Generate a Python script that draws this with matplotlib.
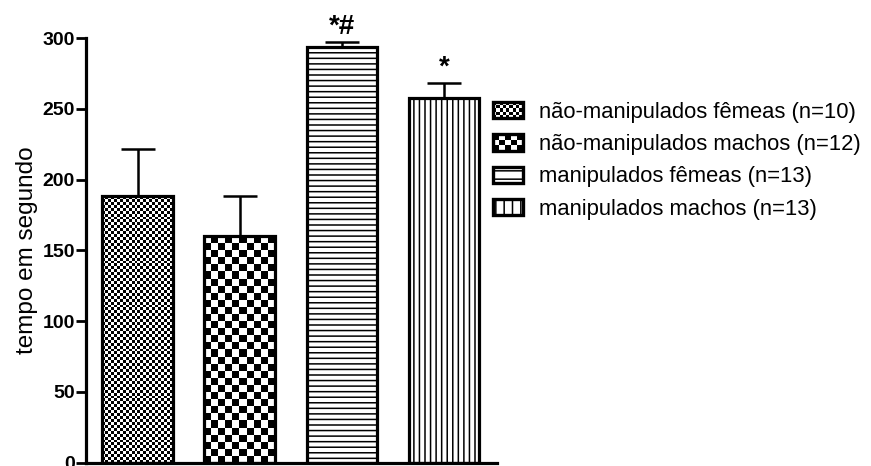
import numpy as np
import matplotlib
matplotlib.use('Agg')
import matplotlib.pyplot as plt
from matplotlib.patches import Rectangle
from matplotlib.legend_handler import HandlerBase

plt.rcParams['font.family'] = ['Liberation Sans', 'DejaVu Sans']

groups = ['não-manipulados fêmeas (n=10)', 'não-manipulados machos (n=12)',
          'manipulados fêmeas (n=13)', 'manipulados machos (n=13)']
means = [188.5, 160.5, 294.0, 257.5]
sems = [33.0, 28.0, 3.0, 10.5]
marks = ['', '', '*#', '*']
yticks = [0, 50, 100, 150, 200, 250, 300]

# fill style per group: ('check', cells across) or ('hatch', pattern)
fills = [('check', 24), ('check', 10), ('hatch', '---'), ('hatch', '|||')]


def checker(nx, ny):
    return (np.add.outer(np.arange(ny), np.arange(nx)) % 2).astype(float)


class PatternHandler(HandlerBase):
    def __init__(self, fill):
        super().__init__()
        self.fill = fill

    def create_artists(self, legend, orig, xd, yd, w, h, fs, trans):
        arts = []
        kind, val = self.fill
        if kind == 'check':
            n = 9 if val > 12 else 5
            ny = 5 if val > 12 else 3
            cw, ch = w / n, h / ny
            for i in range(n):
                for j in range(ny):
                    if (i + j) % 2 == 0:
                        arts.append(Rectangle((-xd + i * cw, -yd + j * ch), cw, ch,
                                              facecolor='black', edgecolor='none',
                                              transform=trans))
            arts.append(Rectangle((-xd, -yd), w, h, facecolor='none',
                                  edgecolor='black', lw=2.4, transform=trans))
        else:
            r = Rectangle((-xd, -yd), w, h, facecolor='white', edgecolor='black',
                          lw=2.4, hatch=val[:2], transform=trans)
            arts.append(r)
        return arts


fig = plt.figure(figsize=(8.71, 4.66), dpi=100)
ax = fig.add_axes([0.0987, 0.0075, 0.472, 0.9105])

x = np.arange(len(means))
width = 0.69
plt.rcParams['hatch.linewidth'] = 1.1

bars = ax.bar(x, means, width, facecolor='none', edgecolor='black',
              linewidth=2.3, zorder=3)
ax.errorbar(x, means, yerr=[np.zeros(len(sems)), sems], fmt='none',
            ecolor='black', elinewidth=1.8, capsize=12, capthick=1.8, zorder=2)

for b, (kind, val) in zip(bars, fills):
    x0, y0 = b.get_x(), b.get_y()
    w, h = b.get_width(), b.get_height()
    if kind == 'check':
        cell_px = 70.0 / val
        ny = int(round(h * 1.4133 / cell_px))
        img = ax.imshow(checker(val, ny), cmap='gray_r', vmin=0, vmax=1,
                        extent=(x0, x0 + w, y0, y0 + h), aspect='auto',
                        interpolation='nearest', zorder=2.5)
        img.set_clip_path(b)
    else:
        b.set_hatch(val)

for xi, m, s, t in zip(x, means, sems, marks):
    if t:
        ax.annotate(t, (xi, m + s), xytext=(0, 2), textcoords='offset points',
                    ha='center', va='bottom', fontsize=20, fontweight='bold',
                    annotation_clip=False)

ax.set_xlim(-0.505, 3.52)
ax.set_ylim(0, 300)
ax.set_yticks(yticks)
ax.set_xticks([])
for side in ['top', 'right']:
    ax.spines[side].set_visible(False)
for side in ['left', 'bottom']:
    ax.spines[side].set_linewidth(2.3)
ax.tick_params(axis='y', direction='out', length=7, width=2, pad=1, labelsize=14)
for lab in ax.get_yticklabels():
    lab.set_fontweight('bold')
ax.set_ylabel('tempo em segundo', fontsize=17.5, labelpad=3)

handles = [Rectangle((0, 0), 1, 1) for _ in groups]
hmap = {hd: PatternHandler(f) for hd, f in zip(handles, fills)}
fig.legend(handles, groups, handler_map=hmap, loc='upper left',
           bbox_to_anchor=(0.566, 0.782), frameon=False, fontsize=15.8,
           handlelength=1.35, handleheight=0.77, handletextpad=0.75,
           labelspacing=0.52, borderpad=0, borderaxespad=0)

fig.savefig('out.png', dpi=100)
